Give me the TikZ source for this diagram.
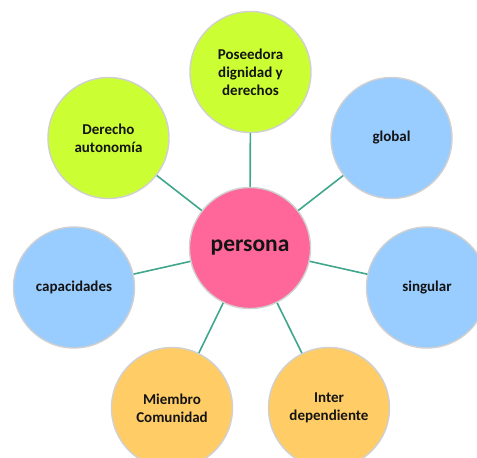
\documentclass[tikz,border=0pt]{standalone}
\usepackage{fontspec}
\setmainfont{Carlito}
\definecolor{pinkc}{RGB}{255,102,153}
\definecolor{greenc}{RGB}{204,255,51}
\definecolor{bluec}{RGB}{153,204,255}
\definecolor{orangec}{RGB}{255,204,102}
\definecolor{ringc}{RGB}{208,208,208}
\definecolor{linkc}{RGB}{64,166,140}
\definecolor{txtc}{RGB}{20,20,20}
\tikzset{
  bubble/.style={circle, draw=ringc, line width=1.4pt, minimum size=121pt, inner sep=0pt,
    align=center, font=\fontsize{15}{18}\selectfont\bfseries, text=txtc},
  hub/.style={bubble, fill=pinkc, font=\fontsize{23.5}{27}\selectfont\bfseries},
  link/.style={draw=linkc, line width=1.6pt}
}
\begin{document}
\begin{tikzpicture}[x=1pt,y=-1pt]
\useasboundingbox (0,0) rectangle (477,458);
\clip (0,0) rectangle (477,458);
\node[hub] (p) at (250,248) {persona};
\node[bubble, fill=greenc] (a) at (250.5,72) {Poseedora\\dignidad y\\derechos};
\node[bubble, fill=bluec] (b) at (391.5,138) {global};
\node[bubble, fill=bluec] (c) at (427,287.5) {singular};
\node[bubble, fill=orangec] (d) at (329,408) {Inter\\dependiente};
\node[bubble, fill=orangec] (e) at (172,408) {Miembro\\Comunidad};
\node[bubble, fill=bluec] (f) at (74,287.5) {capacidades};
\node[bubble, fill=greenc] (g) at (108.5,138) {Derecho\\autonomía};
\foreach \n in {a,b,c,d,e,f,g} { \draw[link] (p) -- (\n); }
\end{tikzpicture}
\end{document}
